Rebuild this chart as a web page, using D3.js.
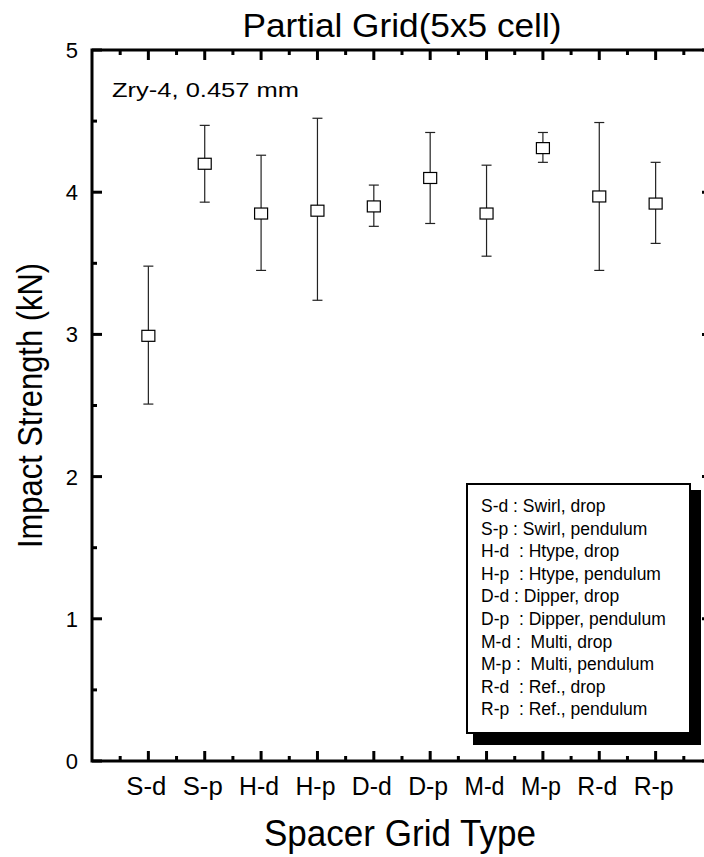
<!DOCTYPE html>
<html>
<head>
<meta charset="utf-8">
<script src="https://cdn.jsdelivr.net/npm/d3@7"></script>
<style>
  body { margin: 0; background: #fff; }
  svg text { font-family: "Liberation Sans", Arial, sans-serif; fill: #000; }
</style>
</head>
<body>
<div id="chart"></div>
<script>
const categories = ["S-d", "S-p", "H-d", "H-p", "D-d", "D-p", "M-d", "M-p", "R-d", "R-p"];
const means = [2.99, 4.20, 3.85, 3.87, 3.90, 4.10, 3.85, 4.31, 3.97, 3.92];
const upper = [3.48, 4.47, 4.26, 4.52, 4.05, 4.42, 4.19, 4.42, 4.49, 4.21];
const lower = [2.51, 3.93, 3.45, 3.24, 3.76, 3.78, 3.55, 4.21, 3.45, 3.64];
const yTicks = [0, 1, 2, 3, 4, 5];
const legendLines = [
  "S-d : Swirl, drop",
  "S-p : Swirl, pendulum",
  "H-d  : Htype, drop",
  "H-p  : Htype, pendulum",
  "D-d : Dipper, drop",
  "D-p  : Dipper, pendulum",
  "M-d :  Multi, drop",
  "M-p :  Multi, pendulum",
  "R-d  : Ref., drop",
  "R-p  : Ref., pendulum"
];

const width = 704, height = 857;
const plotL = 92, plotR = 712, plotT = 50, plotB = 761;

const svg = d3.select("#chart").append("svg")
  .attr("width", width).attr("height", height);

// category i sits at position i+1, frame spans 0..11
const x = d3.scaleLinear().domain([0, 11]).range([plotL, plotR]);
const y = d3.scaleLinear().domain([0, 5]).range([plotB, plotT]);

const majorX = d3.range(1, 11);
const minorX = d3.range(0.5, 11, 1);
const minorY = d3.range(0.5, 5, 1);

// frame
svg.append("rect")
  .attr("x", plotL).attr("y", plotT)
  .attr("width", plotR - plotL).attr("height", plotB - plotT)
  .attr("fill", "none").attr("stroke", "#000").attr("stroke-width", 3);

const ticks = svg.append("g").attr("stroke", "#000").attr("stroke-width", 3);

// bottom and top ticks (inward)
majorX.forEach(v => {
  ticks.append("line").attr("x1", x(v)).attr("x2", x(v)).attr("y1", plotB).attr("y2", plotB - 10);
  ticks.append("line").attr("x1", x(v)).attr("x2", x(v)).attr("y1", plotT).attr("y2", plotT + 10);
});
minorX.forEach(v => {
  ticks.append("line").attr("x1", x(v)).attr("x2", x(v)).attr("y1", plotB).attr("y2", plotB - 5);
  ticks.append("line").attr("x1", x(v)).attr("x2", x(v)).attr("y1", plotT).attr("y2", plotT + 5);
});
// left and right ticks (inward)
yTicks.forEach(v => {
  ticks.append("line").attr("x1", plotL).attr("x2", plotL + 10).attr("y1", y(v)).attr("y2", y(v));
  ticks.append("line").attr("x1", plotR).attr("x2", plotR - 10).attr("y1", y(v)).attr("y2", y(v));
});
minorY.forEach(v => {
  ticks.append("line").attr("x1", plotL).attr("x2", plotL + 5).attr("y1", y(v)).attr("y2", y(v));
  ticks.append("line").attr("x1", plotR).attr("x2", plotR - 5).attr("y1", y(v)).attr("y2", y(v));
});

// tick labels
svg.append("g").selectAll("text")
  .data(yTicks).join("text")
  .attr("x", plotL - 14).attr("y", d => y(d) + 8)
  .attr("text-anchor", "end").attr("font-size", 22)
  .text(d => d);

svg.append("g").selectAll("text")
  .data(categories).join("text")
  .attr("x", (d, i) => x(i + 1) - 2).attr("y", 795)
  .attr("text-anchor", "middle").attr("font-size", 25)
  .attr("textLength", 40).attr("lengthAdjust", "spacingAndGlyphs")
  .text(d => d);

// titles
svg.append("text").attr("x", 402).attr("y", 37)
  .attr("text-anchor", "middle").attr("font-size", 34)
  .attr("textLength", 319).attr("lengthAdjust", "spacingAndGlyphs")
  .text("Partial Grid(5x5 cell)");
svg.append("text").attr("x", 400).attr("y", 846)
  .attr("text-anchor", "middle").attr("font-size", 36)
  .attr("textLength", 272).attr("lengthAdjust", "spacingAndGlyphs")
  .text("Spacer Grid Type");
svg.append("text")
  .attr("transform", `translate(42,${(plotT + plotB) / 2}) rotate(-90)`)
  .attr("text-anchor", "middle").attr("font-size", 35)
  .attr("textLength", 285).attr("lengthAdjust", "spacingAndGlyphs")
  .text("Impact Strength (kN)");

svg.append("text").attr("x", 112).attr("y", 97)
  .attr("font-size", 21)
  .attr("textLength", 187).attr("lengthAdjust", "spacingAndGlyphs")
  .text("Zry-4, 0.457 mm");

// error bars
const bars = svg.append("g").attr("stroke", "#222").attr("stroke-width", 1.2);
categories.forEach((c, i) => {
  const cx = x(i + 1);
  bars.append("line").attr("x1", cx).attr("x2", cx).attr("y1", y(upper[i])).attr("y2", y(lower[i]));
  bars.append("line").attr("x1", cx - 5).attr("x2", cx + 5).attr("y1", y(upper[i])).attr("y2", y(upper[i]));
  bars.append("line").attr("x1", cx - 5).attr("x2", cx + 5).attr("y1", y(lower[i])).attr("y2", y(lower[i]));
});

// markers
svg.append("g").selectAll("rect")
  .data(means).join("rect")
  .attr("x", (d, i) => x(i + 1) - 6.5).attr("y", d => y(d) - 5.5)
  .attr("width", 13).attr("height", 11)
  .attr("fill", "#fff").attr("stroke", "#000").attr("stroke-width", 1.2);

// legend with shadow
const lg = svg.append("g");
lg.append("rect").attr("x", 473).attr("y", 490).attr("width", 228).attr("height", 255).attr("fill", "#000");
lg.append("rect").attr("x", 467).attr("y", 484).attr("width", 223).attr("height", 249)
  .attr("fill", "#fff").attr("stroke", "#000").attr("stroke-width", 2);
lg.selectAll("text")
  .data(legendLines).join("text")
  .attr("x", 481).attr("y", (d, i) => 512 + i * 22.6)
  .attr("font-size", 17.5)
  .style("white-space", "pre")
  .text(d => d);
</script>
</body>
</html>
